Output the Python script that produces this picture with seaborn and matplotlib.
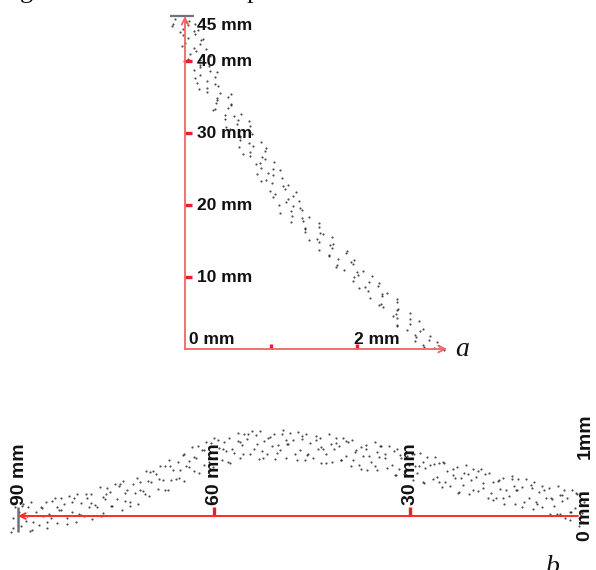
import matplotlib
matplotlib.use("Agg")
import matplotlib.pyplot as plt
import seaborn as sns

# ---------------- panel a : depth profile (x in mm, depth in mm) ----------------
a_x = [
    -0.12, 0.05, -0.14, 0.03, 0.12, -0.02, 0.15, -0.06, 0.12, 0.04, 0.21,
    0.0, 0.18, 0.1, 0.24, 0.06, 0.2, 0.03, 0.18, 0.18, 0.28, 0.11, 0.29,
    0.18, 0.35, 0.26, 0.14, 0.38, 0.25, 0.25, 0.41, 0.5, 0.37, 0.36, 0.53,
    0.5, 0.35, 0.65, 0.46, 0.46, 0.62, 0.6, 0.75, 0.52, 0.69, 0.78, 0.64,
    0.64, 0.88, 0.79, 0.63, 0.93, 0.75, 0.75, 0.9, 1.04, 0.87, 0.88, 1.02,
    0.97, 0.84, 1.13, 0.94, 1.01, 1.2, 1.16, 0.99, 1.05, 1.26, 1.2, 1.33,
    1.09, 1.26, 1.36, 1.23, 1.24, 1.44, 1.37, 1.23, 1.56, 1.39, 1.4, 1.57,
    1.71, 1.54, 1.56, 1.72, 1.71, 1.56, 1.87, 1.67, 1.78, 1.97, 1.95, 1.77,
    1.85, 2.07, 2.01, 2.18, 1.95, 2.14, 2.24, 2.09, 2.13, 2.35, 2.29, 2.15,
    2.47, 2.28, 2.3, 2.48, 2.62, 2.45, 2.47, 2.62, 2.62, 2.47, 2.77, 2.58,
    2.68, 2.85, 2.84, 2.68, 2.77, 2.95, 2.89, 3.01,
    0.01, -0.15, 0.1, -0.02, 0.19, -0.03, 0.13, 0.29, -0.01, 0.17, 0.37,
    0.12, 0.35, 0.16, 0.53, 0.375, 0.54, 0.32, 0.57, 0.74, 0.48, 0.76, 0.64,
    0.745, 0.94, 0.68, 0.93, 0.82, 1.11, 1.02, 0.88, 1.135, 1.29, 1.025,
    1.17, 1.34, 1.11, 1.36, 1.56, 1.39, 1.61, 1.44, 1.69, 1.88, 1.68, 1.93,
    1.75, 2.0, 1.97, 2.26, 2.02, 2.29, 2.47, 2.25, 2.46, 2.42, 2.72, 2.47,
    2.73, 2.69, 2.93, 2.78,
]
a_y = [
    45.8, 45.6, 45.2, 45.0, 45.1, 44.5, 44.3, 44.0, 43.8, 43.2, 43.0,
    42.5, 42.3, 41.8, 41.6, 41.0, 40.8, 40.3, 40.1, 39.5, 39.3, 38.8, 38.6,
    38.0, 37.8, 37.2, 37.0, 36.5, 36.3, 35.7, 35.5, 35.0, 34.8, 34.2, 34.0,
    33.5, 33.3, 32.7, 32.5, 32.0, 31.8, 31.2, 31.0, 30.5, 30.3, 29.8, 29.6,
    29.0, 28.8, 28.2, 28.0, 27.5, 27.3, 26.8, 26.6, 26.0, 25.8, 25.2, 25.0,
    24.5, 24.3, 23.7, 23.5, 23.0, 22.8, 22.2, 22.0, 21.5, 21.3, 20.8, 20.6,
    20.0, 19.8, 19.3, 19.1, 18.5, 18.3, 17.8, 17.6, 17.0, 16.8, 16.3, 16.1,
    15.5, 15.3, 14.8, 14.6, 14.0, 13.8, 13.3, 13.1, 12.5, 12.3, 11.8, 11.6,
    11.0, 10.8, 10.3, 10.1, 9.5, 9.3, 8.8, 8.6, 8.0, 7.8, 7.3, 7.1,
    6.5, 6.3, 5.8, 5.6, 5.0, 4.8, 4.3, 4.1, 3.5, 3.3, 2.8, 2.6,
    2.0, 1.8, 1.3, 1.1, 0.6, 0.4, 0.1, -0.1,
    45.45, 44.85, 44.15, 43.65, 42.85, 42.15, 41.45, 40.65, 39.95, 39.15, 38.45,
    37.65, 36.85, 36.15, 35.35, 34.65, 33.85, 33.15, 32.35, 31.65, 30.85, 30.15, 29.45,
    28.65, 27.85, 27.15, 26.45, 25.65, 24.85, 24.15, 23.35, 22.65, 21.85, 21.15,
    20.45, 19.65, 18.95, 18.15, 17.45, 16.65, 15.95, 15.15, 14.45, 13.65, 12.95, 12.15,
    11.45, 10.65, 9.95, 9.15, 8.45, 7.65, 6.95, 6.15, 5.45, 4.65, 3.95, 3.15,
    2.45, 1.65, 0.95, 0.25,
]
a_yticks = [10, 20, 30, 40, 45]
a_ytick_labels = ["10 mm", "20 mm", "30 mm", "40 mm", "45 mm"]
a_xticks = [1, 2]
a_xtick_labels = ["", "2 mm"]
a_origin_label = "0 mm"

# ---------------- panel b : longitudinal profile (x in mm, height in mm) --------
b_x = [
    91.0, 90.7, 90.4, 89.9, 89.55, 89.2, 88.8, 88.5, 88.1, 87.95, 87.65, 87.3,
    86.85, 86.45, 86.15, 85.75, 85.6, 85.25, 84.9, 84.4, 84.05, 84.0, 83.7, 83.4,
    82.9, 82.55, 82.2, 81.8, 81.5, 81.1, 80.95, 80.65, 80.3, 79.85, 79.45, 79.15,
    78.75, 78.6, 78.25, 77.9, 77.4, 77.05, 77.0, 76.7, 76.4, 75.9, 75.55, 75.2,
    74.8, 74.5, 74.1, 73.95, 73.65, 73.3, 72.85, 72.45, 72.15, 71.75, 71.6, 71.25,
    70.9, 70.4, 70.05, 70.0, 69.7, 69.4, 68.9, 68.55, 68.2, 67.8, 67.5, 67.1,
    66.95, 66.65, 66.3, 65.85, 65.45, 65.15, 64.75, 64.6, 64.25, 63.9, 63.4, 63.05,
    63.0, 62.7, 62.4, 61.9, 61.55, 61.2, 60.8, 60.5, 60.1, 59.95, 59.65, 59.3,
    58.85, 58.45, 58.15, 57.75, 57.6, 57.25, 56.9, 56.4, 56.05, 56.0, 55.7, 55.4,
    54.9, 54.55, 54.2, 53.8, 53.5, 53.1, 52.95, 52.65, 52.3, 51.85, 51.45, 51.15,
    50.75, 50.6, 50.25, 49.9, 49.4, 49.05, 49.0, 48.7, 48.4, 47.9, 47.55, 47.2,
    46.8, 46.5, 46.1, 45.95, 45.65, 45.3, 44.85, 44.45, 44.15, 43.75, 43.6, 43.25,
    42.9, 42.4, 42.05, 42.0, 41.7, 41.4, 40.9, 40.55, 40.2, 39.8, 39.5, 39.1,
    38.95, 38.65, 38.3, 37.85, 37.45, 37.15, 36.75, 36.6, 36.25, 35.9, 35.4, 35.05,
    35.0, 34.7, 34.4, 33.9, 33.55, 33.2, 32.8, 32.5, 32.1, 31.95, 31.65, 31.3,
    30.85, 30.45, 30.15, 29.75, 29.6, 29.25, 28.9, 28.4, 28.05, 28.0, 27.7, 27.4,
    26.9, 26.55, 26.2, 25.8, 25.5, 25.1, 24.95, 24.65, 24.3, 23.85, 23.45, 23.15,
    22.75, 22.6, 22.25, 21.9, 21.4, 21.05, 21.0, 20.7, 20.4, 19.9, 19.55, 19.2,
    18.8, 18.5, 18.1, 17.95, 17.65, 17.3, 16.85, 16.45, 16.15, 15.75, 15.6, 15.25,
    14.9, 14.4, 14.05, 14.0, 13.7, 13.4, 12.9, 12.55, 12.2, 11.8, 11.5, 11.1,
    10.95, 10.65, 10.3, 9.85, 9.45, 9.15, 8.75, 8.6, 8.25, 7.9, 7.4, 7.05,
    7.0, 6.7, 6.4, 5.9, 5.55, 5.2, 4.8, 4.5, 4.1, 3.95, 3.65, 3.3,
    5.5, 4.2, 3.5, 6.3,
    90.8, 89.35, 88.55, 87.8, 86.35, 85.55, 84.8, 83.35, 82.55, 81.8, 80.35,
    79.55, 78.8, 77.35, 76.55, 75.8, 74.35, 73.55, 72.8, 71.35, 70.55, 69.8,
    68.35, 67.55, 66.8, 65.35, 64.55, 63.8, 62.35, 61.55, 60.8, 59.35, 58.55,
    57.8, 56.35, 55.55, 54.8, 53.35, 52.55, 51.8, 50.35, 49.55, 48.8, 47.35,
    46.55, 45.8, 44.35, 43.55, 42.8, 41.35, 40.55, 39.8, 38.35, 37.55, 36.8,
    35.35, 34.55, 33.8, 32.35, 31.55, 30.8, 29.35, 28.55, 27.8, 26.35, 25.55,
    24.8, 23.35, 22.55, 21.8, 20.35, 19.55, 18.8, 17.35, 16.55, 15.8, 14.35,
    13.55, 12.8, 11.35, 10.55, 9.8, 8.35, 7.55, 6.8, 5.35, 4.55, 3.8,
]
b_y = [
    -0.2, -0.03, 0.11, 0.05, -0.13, 0.15, -0.06, 0.11, -0.19, 0.17, -0.08, 0.05,
    -0.11, 0.11, 0.0, 0.17, -0.15, 0.03, -0.02, 0.23, 0.11, -0.09, 0.08, 0.22,
    0.15, -0.03, 0.25, 0.05, 0.22, -0.08, 0.28, 0.03, 0.16, 0.0, 0.22, 0.11,
    0.28, -0.04, 0.14, 0.11, 0.36, 0.24, 0.04, 0.21, 0.35, 0.3, 0.12, 0.4,
    0.21, 0.38, 0.08, 0.44, 0.19, 0.32, 0.18, 0.4, 0.29, 0.47, 0.15, 0.33,
    0.31, 0.56, 0.44, 0.25, 0.42, 0.56, 0.52, 0.34, 0.62, 0.45, 0.62, 0.32,
    0.7, 0.45, 0.58, 0.46, 0.68, 0.57, 0.76, 0.44, 0.62, 0.61, 0.86, 0.74,
    0.56, 0.73, 0.87, 0.82, 0.64, 0.92, 0.74, 0.91, 0.61, 0.97, 0.72, 0.85,
    0.7, 0.92, 0.81, 0.98, 0.66, 0.84, 0.79, 1.04, 0.92, 0.72, 0.89, 1.03,
    0.96, 0.78, 1.06, 0.84, 1.01, 0.71, 1.06, 0.81, 0.94, 0.77, 0.99, 0.88,
    1.03, 0.71, 0.89, 0.82, 1.07, 0.95, 0.73, 0.9, 1.04, 0.95, 0.77, 1.05,
    0.83, 1.0, 0.7, 1.03, 0.78, 0.91, 0.73, 0.95, 0.84, 0.98, 0.66, 0.84,
    0.77, 1.02, 0.9, 0.67, 0.84, 0.98, 0.88, 0.7, 0.98, 0.75, 0.92, 0.62,
    0.95, 0.7, 0.83, 0.64, 0.86, 0.75, 0.89, 0.57, 0.75, 0.67, 0.92, 0.8,
    0.57, 0.74, 0.88, 0.78, 0.6, 0.88, 0.64, 0.81, 0.51, 0.84, 0.59, 0.72,
    0.53, 0.75, 0.64, 0.77, 0.45, 0.63, 0.54, 0.79, 0.67, 0.43, 0.6, 0.74,
    0.64, 0.46, 0.74, 0.49, 0.66, 0.36, 0.68, 0.43, 0.56, 0.37, 0.59, 0.48,
    0.61, 0.29, 0.47, 0.39, 0.64, 0.52, 0.28, 0.45, 0.59, 0.49, 0.31, 0.59,
    0.35, 0.52, 0.22, 0.54, 0.29, 0.42, 0.23, 0.45, 0.34, 0.47, 0.15, 0.33,
    0.25, 0.5, 0.38, 0.15, 0.32, 0.46, 0.36, 0.18, 0.46, 0.22, 0.39, 0.09,
    0.42, 0.17, 0.3, 0.11, 0.33, 0.22, 0.35, 0.03, 0.21, 0.13, 0.38, 0.26,
    0.02, 0.19, 0.33, 0.23, 0.05, 0.33, 0.1, 0.27, -0.03, 0.29, 0.04, 0.17,
    -0.05, -0.12, -0.08, -0.02,
    -0.15, 0.12, 0.0, -0.17, 0.1, -0.07, 0.19, 0.08, -0.1, 0.18, 0.01,
    0.27, 0.16, 0.0, 0.28, 0.12, 0.4, 0.29, 0.13, 0.42, 0.27, 0.55,
    0.46, 0.32, 0.62, 0.48, 0.77, 0.69, 0.54, 0.83, 0.68, 0.95, 0.84,
    0.67, 0.94, 0.77, 1.03, 0.9, 0.72, 0.98, 0.79, 1.03, 0.9, 0.7,
    0.96, 0.76, 1.0, 0.86, 0.66, 0.91, 0.7, 0.94, 0.8, 0.59, 0.84,
    0.63, 0.87, 0.72, 0.51, 0.76, 0.55, 0.78, 0.62, 0.41, 0.65, 0.43,
    0.66, 0.51, 0.3, 0.54, 0.33, 0.56, 0.41, 0.2, 0.44, 0.23, 0.46,
    0.32, 0.11, 0.35, 0.15, 0.38, 0.23, 0.02, 0.26, 0.05, 0.29, 0.14,
]
b_xticks = [90, 60, 30]
b_xtick_labels = ["90 mm", "60 mm", "30 mm"]
b_yticks = [0, 1]
b_ytick_labels = ["0 mm", "1mm"]

# ---------------- figure ----------------
sns.set_style("white")
plt.rcParams["font.family"] = ["Liberation Sans", "DejaVu Sans"]

W, H = 596, 570
fig = plt.figure(figsize=(W / 100, H / 100), dpi=100)
fig.patch.set_facecolor("white")
PT = 0.72  # points per pixel at 100 dpi


def px_axes(left, top, right, bottom):
    return fig.add_axes([left / W, 1 - bottom / H, (right - left) / W, (bottom - top) / H])


lab_kw = dict(fontweight="bold", color="#111111")
dot_kw = dict(s=2.4, color="#202020", linewidth=0, alpha=0.8, legend=False)

# ---- panel a ----
kx_a, ky_a, ox_a, oy_a = 86.0, 7.2, 185, 349
ax_a = px_axes(150, 0, 480, 380)
sns.scatterplot(x=a_x, y=a_y, ax=ax_a, **dot_kw)
ax_a.set_xlim((150 - ox_a) / kx_a, (480 - ox_a) / kx_a)
ax_a.set_ylim((oy_a - 380) / ky_a, oy_a / ky_a)
ax_a.axis("off")

axis_red_a = "#f06464"
tick_red = "#e81e28"
y_top = (oy_a - 16) / ky_a
x_end = (447 - ox_a) / kx_a
ax_a.annotate("", xy=(0, y_top), xytext=(0, 0),
              arrowprops=dict(arrowstyle="->", color=axis_red_a, lw=1.3,
                              shrinkA=0, shrinkB=0, mutation_scale=12))
ax_a.annotate("", xy=(x_end, 0), xytext=(0, 0),
              arrowprops=dict(arrowstyle="->", color=axis_red_a, lw=1.3,
                              shrinkA=0, shrinkB=0, mutation_scale=12))
ax_a.hlines(y_top, -15 / kx_a, 9 / kx_a, color="#6c7282", lw=1.6)
ax_a.hlines(a_yticks[:-1], 0, 7 / kx_a, color=tick_red, lw=2.4)
ax_a.vlines(a_xticks, 0, 5 / ky_a, color=tick_red, lw=2.4)
for t, lbl in zip(a_yticks, a_ytick_labels):
    ax_a.annotate(lbl, xy=(0, t), xytext=(12 * PT, 0), textcoords="offset points",
                  ha="left", va="center", fontsize=12.5, **lab_kw)
ax_a.annotate(a_origin_label, xy=(0, 0), xytext=(4 * PT, 10 * PT), textcoords="offset points",
              ha="left", va="center", fontsize=12.5, **lab_kw)
for t, lbl in zip(a_xticks, a_xtick_labels):
    if lbl:
        ax_a.annotate(lbl, xy=(t, 0), xytext=(-3 * PT, 10 * PT), textcoords="offset points",
                      ha="left", va="center", fontsize=12.5, **lab_kw)

# ---- panel b ----
kx_b, ky_b, ox_b, oy_b = 6.533, 80.0, 18, 516
ax_b = px_axes(0, 390, 596, 570)
sns.scatterplot(x=b_x, y=b_y, ax=ax_b, **dot_kw)
ax_b.set_xlim(90 + ox_b / kx_b, 90 - (W - ox_b) / kx_b)
ax_b.set_ylim((oy_b - 570) / ky_b, (oy_b - 390) / ky_b)
ax_b.axis("off")

axis_red_b = "#ff2a2a"
b_end = 90 - (578 - ox_b) / kx_b
ax_b.annotate("", xy=(90, 0), xytext=(b_end, 0),
              arrowprops=dict(arrowstyle="->", color=axis_red_b, lw=1.4,
                              shrinkA=0, shrinkB=0, mutation_scale=10))
ax_b.vlines(90, -16 / ky_b, 9 / ky_b, color="#6c7282", lw=1.8)
ax_b.vlines(b_xticks[1:], 0, 9 / ky_b, color=tick_red, lw=2.4)
for t, lbl in zip(b_xticks, b_xtick_labels):
    ax_b.annotate(lbl, xy=(t, 0), xytext=(1 * PT, 11 * PT), textcoords="offset points",
                  ha="center", va="bottom", rotation=90, fontsize=14, **lab_kw)
for t, lbl in zip(b_yticks, b_ytick_labels):
    ax_b.annotate(lbl, xy=(585 / W, t), xycoords=ax_b.get_yaxis_transform(),
                  ha="center", va="center", rotation=90, fontsize=14, **lab_kw)

# ---- panel letters and clipped caption fragments ----
serif = ["Liberation Serif", "DejaVu Serif"]
fig.text(455 / W, 1 - 356 / H, "a", family=serif, style="italic", fontsize=20,
         ha="left", va="baseline", color="#111111")
fig.text(546 / W, 1 - 574 / H, "b", family=serif, style="italic", fontsize=20,
         ha="left", va="baseline", color="#111111")
fig.text(20 / W, 1 + 2 / H, "g", family=serif, fontsize=19, ha="left", va="baseline",
         color="#111111")
fig.text(247 / W, 1 + 2 / H, "p", family=serif, fontsize=19, ha="left", va="baseline",
         color="#111111")

fig.savefig("out.png", dpi=100, facecolor="white")
